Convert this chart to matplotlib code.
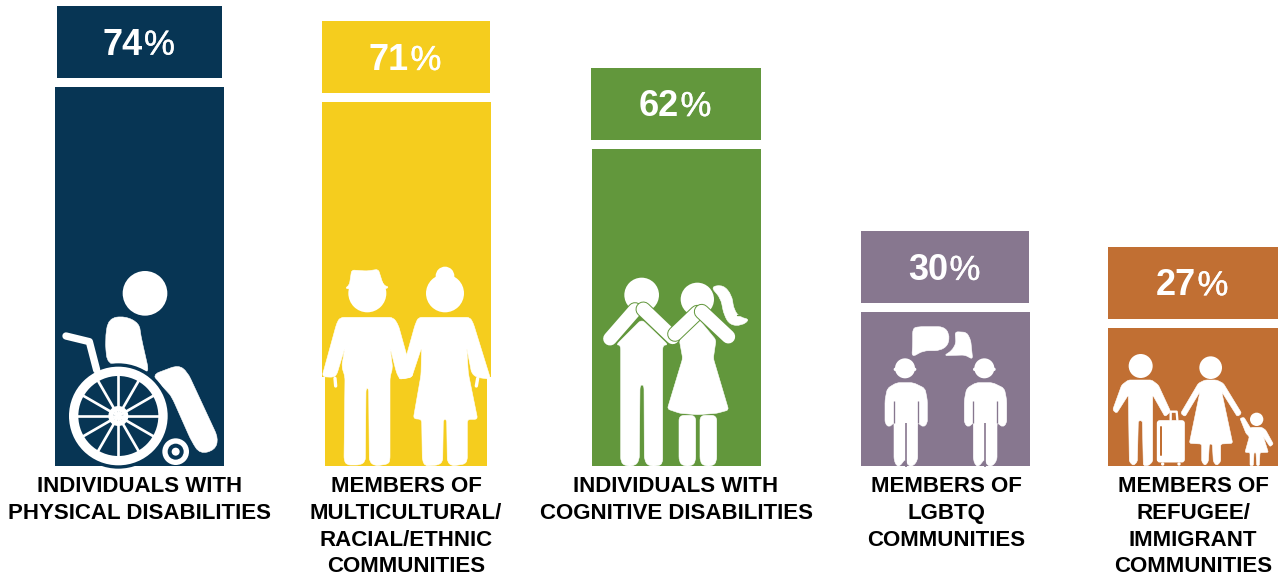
#!/usr/bin/env python3
import numpy as np
import matplotlib
matplotlib.use("Agg")
import matplotlib.pyplot as plt
import matplotlib.patheffects as pe
from matplotlib.patches import Circle, PathPatch, Rectangle, FancyBboxPatch
from matplotlib.path import Path

plt.rcParams['font.family'] = ['Liberation Sans', 'DejaVu Sans']

categories = ["INDIVIDUALS WITH\nPHYSICAL DISABILITIES",
              "MEMBERS OF\nMULTICULTURAL/\nRACIAL/ETHNIC\nCOMMUNITIES",
              "INDIVIDUALS WITH\nCOGNITIVE DISABILITIES",
              "MEMBERS OF\nLGBTQ\nCOMMUNITIES",
              "MEMBERS OF\nREFUGEE/\nIMMIGRANT\nCOMMUNITIES"]
values = [74, 71, 62, 30, 27]
colors = ["#073554", "#F5CD1E", "#62973C", "#87778F", "#C16F33"]

# layout, in pixels of the 1283x577 picture
bar_left = [55, 322, 592, 861, 1108]
bar_width = [169, 169, 169, 169, 170]
box_left = [57, 322, 591, 861, 1108]
box_width = [165, 168, 170, 168, 170]
label_x = [140, 406, 676, 946, 1193]
base_px = 466
px_per_unit = 5.12
gap = 9/px_per_unit
box_h = 72/px_per_unit

fig = plt.figure(figsize=(12.83, 5.77), dpi=100)
ax = fig.add_axes([0, 0, 1, 1])
ax.set_xlim(0, 1283)
ax.set_ylim(-(577-base_px)/px_per_unit, base_px/px_per_unit)
ax.axis("off")
ax.bar(bar_left, values, width=bar_width, align="edge", color=colors)
ax.bar(box_left, [box_h]*5, width=box_width, bottom=np.array(values)+gap, align="edge", color=colors)

# overlay in picture pixels for the white figures
ov = fig.add_axes([0, 0, 1, 1], zorder=5)
ov.set_xlim(0, 1283)
ov.set_ylim(577, 0)
ov.axis("off")


def conv(pts, o):
    return [(o[0]+x/3, o[1]+y/3) for x, y in pts]


def blob(pts, o, c="white", r=16):
    # polygon with its corners rounded by quadratic curves, r in zoomed pixels
    p = np.array(conv(pts, o), dtype=float)
    r = r/3
    n = len(p)
    verts, codes = [], []
    for i in range(n):
        a, b, d = p[i-1], p[i], p[(i+1) % n]
        u = a-b
        w = d-b
        lu, lw = np.hypot(*u), np.hypot(*w)
        s = b+u/lu*min(r, lu/2)
        e = b+w/lw*min(r, lw/2)
        verts += [s, b, e]
        codes += [Path.MOVETO if i == 0 else Path.LINETO, Path.CURVE3, Path.CURVE3]
    verts.append(verts[0])
    codes.append(Path.CLOSEPOLY)
    ov.add_patch(PathPatch(Path(verts, codes), fc=c, ec=c, lw=0.4))


def limb(pts, w, o, c="white", cap="round"):
    p = np.array(conv(pts, o))
    ov.plot(p[:, 0], p[:, 1], color=c, lw=w/3*0.72, solid_capstyle=cap, solid_joinstyle="round")


def disc(x, y, r, o, c="white"):
    ov.add_patch(Circle((o[0]+x/3, o[1]+y/3), r/3, fc=c, ec="none"))


# wheelchair
o = (50, 260)
navy = colors[0]
disc(285, 100, 67, o)
blob([(165, 240), (175, 175), (225, 168), (268, 190), (272, 225), (298, 340), (270, 325), (225, 314), (172, 314)], o, r=30)
blob([(305, 345), (385, 315), (412, 335), (505, 535), (495, 570), (450, 582), (425, 545), (365, 410), (352, 395)], o, r=24)
limb([(48, 228), (118, 245), (140, 330)], 22, o)
disc(205, 468, 158, o, navy)
disc(205, 468, 148, o)
disc(205, 468, 120, o, navy)
for a in np.arange(0, 360, 30):
    t = np.radians(a)
    limb([(205, 468), (205+125*np.cos(t), 468+125*np.sin(t))], 8, o, cap="butt")
disc(205, 468, 30, o)
disc(205, 468, 15, o, navy)
disc(377, 575, 40, o)
disc(377, 575, 24, o, navy)
disc(377, 575, 12, o)

# older couple
ov.add_patch(Rectangle((321, 377), 4, 90, fc="white", ec="none"))
ov.add_patch(Rectangle((487, 377), 5, 90, fc="white", ec="none"))
blob([(905, 30), (950, 33), (985, 28), (1000, 75), (1018, 82), (1000, 88), (905, 88), (885, 85), (898, 75)], o, r=8)
disc(952, 100, 57, o)
blob([(870, 172), (1030, 172), (1045, 195), (1070, 285), (1090, 350), (1050, 358), (1040, 340), (1020, 262), (1028, 325),
      (1020, 350), (1020, 600), (1015, 612), (975, 618), (958, 605), (956, 385), (948, 385), (946, 605), (930, 615),
      (890, 615), (882, 600), (885, 350), (875, 320), (885, 262), (860, 345), (850, 352), (816, 350), (860, 190)], o, r=12)
limb([(855, 355), (857, 378)], 10, o)
limb([(1283, 355), (1279, 378)], 10, o)
disc(1185, 48, 28, o)
disc(1185, 100, 57, o)
blob([(1105, 172), (1260, 172), (1270, 190), (1322, 358), (1280, 352), (1265, 340), (1250, 262), (1255, 340), (1283, 478),
      (1252, 478), (1252, 600), (1245, 612), (1205, 618), (1192, 605), (1190, 478), (1180, 478), (1178, 605), (1165, 615),
      (1125, 618), (1117, 600), (1115, 478), (1090, 476), (1113, 345), (1115, 262), (1085, 352), (1045, 358), (1070, 285), (1095, 195)], o, r=10)

# couple covering eyes
o = (590, 260)
green = colors[2]
disc(155, 105, 52, o)
blob([(78, 255), (155, 178), (235, 255), (218, 255), (218, 610), (205, 618), (175, 618), (163, 600), (162, 375), (150, 375),
      (148, 600), (135, 618), (105, 618), (92, 605), (92, 255)], o, r=14)
disc(322, 118, 50, o)
blob([(362, 80), (400, 75), (425, 105), (432, 150), (450, 172), (480, 178), (455, 197), (420, 195), (402, 165), (392, 115)], o, r=18)
limb([(440, 166), (465, 166)], 4, o, green)
blob([(322, 172), (378, 240), (370, 295), (416, 450), (380, 460), (322, 464), (270, 460), (232, 447), (278, 295), (268, 240)], o, r=8)
blob([(267, 466), (317, 466), (317, 605), (305, 618), (280, 618), (267, 605)], o, r=16)
blob([(330, 466), (380, 466), (380, 605), (368, 618), (342, 618), (330, 605)], o, r=16)
for arm in ([(60, 236), (135, 150)], [(248, 232), (160, 148)], [(255, 222), (322, 158)], [(415, 230), (335, 155)]):
    limb(arm, 47, o, green)
    limb(arm, 41, o)

# two people talking
for dx in (0, 238):
    disc(945+dx, 325, 30, o)
    disc(916+dx, 328, 5, o)
    disc(974+dx, 328, 5, o)
    pts = [(920, 368), (970, 368), (1005, 385), (1012, 420), (1012, 490), (1000, 502), (986, 490), (983, 490), (983, 600),
           (970, 618), (955, 618), (947, 600), (943, 600), (930, 618), (920, 618), (912, 600),
           (912, 490), (910, 490), (897, 502), (885, 490), (885, 420), (892, 385)]
    blob([(x+dx, y) for x, y in pts], o, r=10)
    limb([(984+dx, 422), (984+dx, 490)], 4, o, colors[3], cap="butt")
    limb([(911+dx, 422), (911+dx, 490)], 4, o, colors[3], cap="butt")
    limb([(947+dx, 488), (947+dx, 620)], 5, o, colors[3], cap="butt")
blob([(985, 200), (1060, 200), (1078, 220), (1075, 255), (1050, 272), (1000, 272), (965, 292), (968, 260), (968, 205)], o, r=16)
blob([(1095, 215), (1130, 217), (1142, 240), (1148, 298), (1125, 285), (1062, 287), (1085, 272), (1098, 250)], o, r=10)

# family with suitcase
o = (1100, 330)
orange = colors[4]
disc(122, 108, 36, o)
blob([(85, 150), (155, 150), (175, 165), (212, 245), (195, 260), (158, 195), (158, 395), (145, 407), (130, 407), (127, 272),
      (115, 272), (112, 395), (100, 407), (88, 395), (85, 195), (50, 250), (38, 240), (65, 165)], o, r=6)
limb([(212, 270), (212, 245), (230, 245), (232, 270)], 7, o)
ov.add_patch(FancyBboxPatch((1100+175/3, 330+275/3), 75/3, 118/3, boxstyle="round,pad=1.5,rounding_size=3", fc="white", ec="none"))
limb([(184, 290), (184, 375)], 6, o, orange)
disc(188, 402, 5, o)
disc(237, 402, 5, o)
disc(332, 113, 34, o)
blob([(315, 150), (350, 150), (370, 160), (425, 250), (412, 260), (365, 185), (398, 340), (362, 342), (362, 395), (350, 407),
      (340, 395), (337, 342), (328, 342), (325, 395), (315, 407), (305, 395), (305, 342), (268, 340), (300, 185), (255, 260),
      (242, 250), (295, 160)], o, r=6)
disc(470, 268, 20, o)
blob([(455, 292), (485, 292), (497, 300), (520, 342), (510, 350), (490, 320), (505, 367), (480, 368), (478, 407), (470, 407),
      (468, 368), (462, 368), (460, 407), (450, 407), (450, 368), (435, 367), (448, 320), (438, 310), (420, 265), (432, 262), (452, 295)], o, r=4)

# percent labels: digits bold, sign regular with a slight stroke
for v, bl, bw, in zip(values, box_left, box_width):
    cx = bl+bw/2
    cy = base_px-(v+gap+box_h/2)*px_per_unit
    ov.text(cx+3, cy+3, str(v), color="white", fontsize=26, fontweight="bold", ha="right", va="center")
    t = ov.text(cx+4.5, cy+3, "%", color="white", fontsize=25, ha="left", va="center")
    t.set_path_effects([pe.withStroke(linewidth=0.3, foreground="white")])

for c, x in zip(categories, label_x):
    ov.text(x, 476.5, c, color="black", fontsize=16, fontweight="bold", ha="center", va="top", linespacing=1.35)

fig.savefig("out.png", dpi=100)
